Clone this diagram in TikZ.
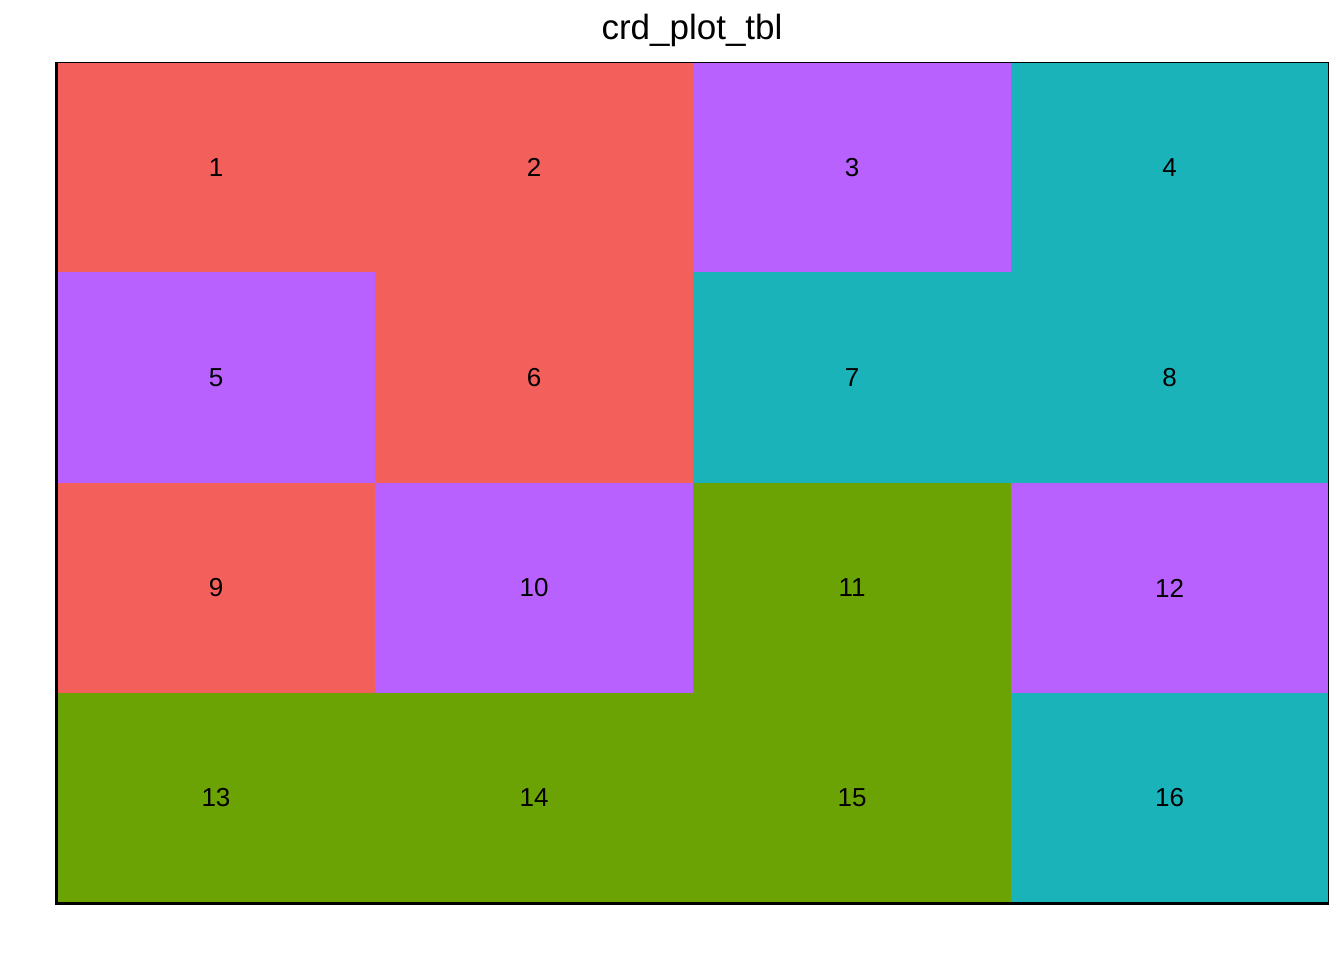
\documentclass[tikz,border=0pt]{standalone}
\usepackage{fontspec}
\setmainfont{Liberation Sans}
\definecolor{cR}{HTML}{F3605B}
\definecolor{cP}{HTML}{B961FF}
\definecolor{cT}{HTML}{1AB3B9}
\definecolor{cG}{HTML}{6BA304}
\tikzset{
  tile/.style={fill=#1, draw=none},
  lab/.style={font=\fontsize{26}{30}\selectfont, text=black, inner sep=0pt},
}
\begin{document}
\begin{tikzpicture}[x=1pt,y=-1pt]
\useasboundingbox[fill=white] (0,0) rectangle (1344,960);
\def\xs{{57,375,693,1011,1328}}
\def\ys{{63,272,483,693,903}}
% colours row by row
\def\cols{{"cR","cR","cP","cT","cP","cR","cT","cT","cR","cP","cG","cP","cG","cG","cG","cT"}}
\foreach \r in {0,...,3}{
  \foreach \c in {0,...,3}{
    \pgfmathsetmacro{\xa}{\xs[\c]}
    \pgfmathsetmacro{\xb}{\xs[\c+1]}
    \pgfmathsetmacro{\ya}{\ys[\r]}
    \pgfmathsetmacro{\yb}{\ys[\r+1]}
    \pgfmathtruncatemacro{\k}{4*\r+\c}
    \pgfmathsetmacro{\cl}{\cols[\k]}
    \pgfmathtruncatemacro{\n}{\k+1}
    \fill[\cl] (\xa,\ya) rectangle (\xb,\yb);
    \node[lab] (n\n) at ({(\xa+\xb)/2},{(\ya+\yb)/2}) {\n};
  }
}
\node[font=\fontsize{35}{40}\selectfont, inner sep=0pt] (title) at (692,30) {crd\_plot\_tbl};
\draw[line width=1pt, black] (57,63) -- (1328,63) -- (1328,903);
\draw[line width=3pt, black] (56.5,62.5) -- (56.5,903.5) -- (1329,903.5);
\end{tikzpicture}
\end{document}
